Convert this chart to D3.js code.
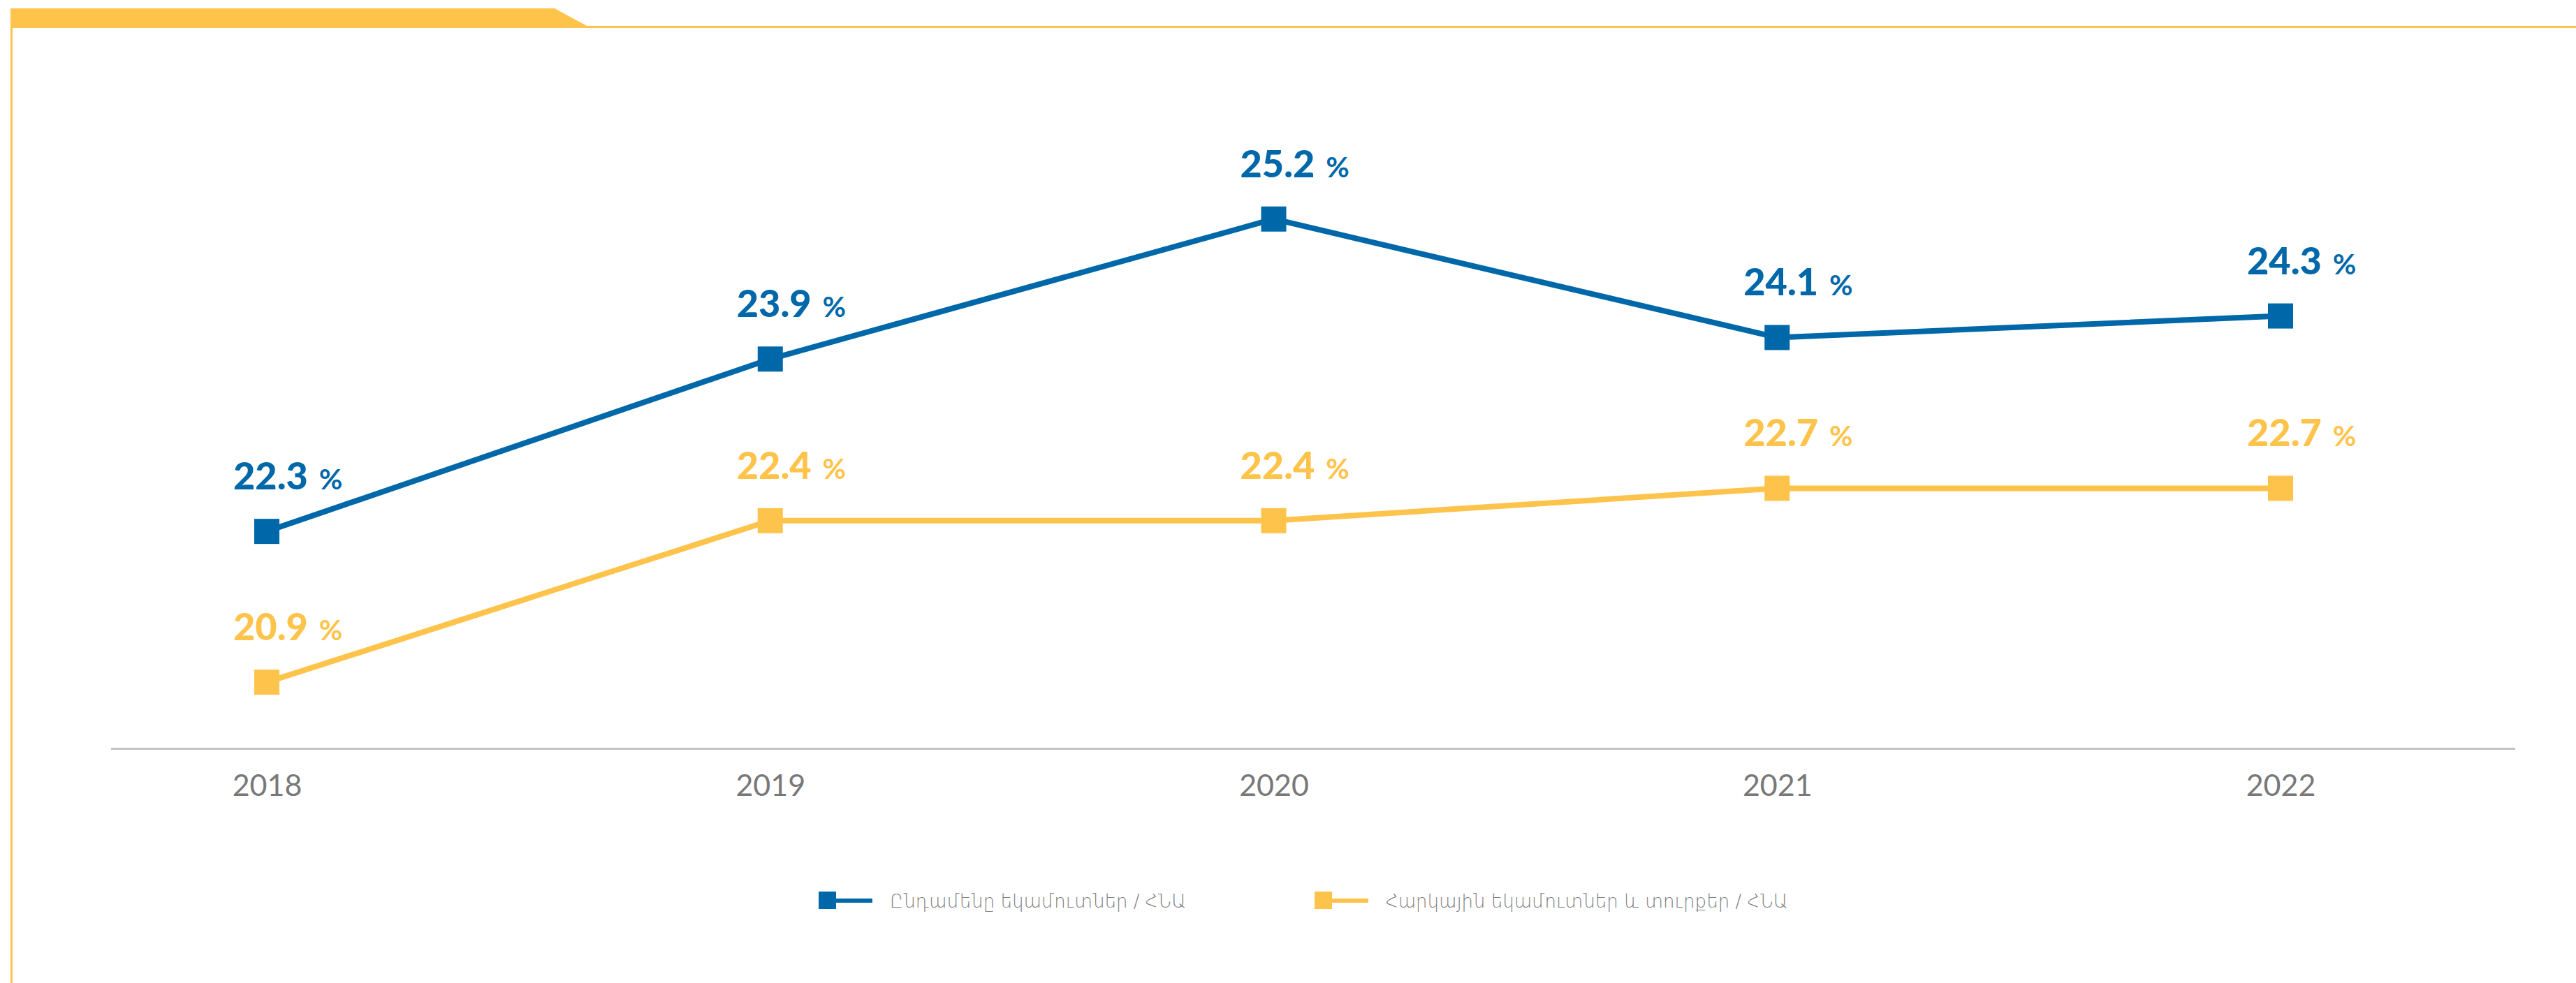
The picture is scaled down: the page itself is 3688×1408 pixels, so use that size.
<!DOCTYPE html>
<html>
<head>
<meta charset="utf-8">
<script src="https://cdn.jsdelivr.net/npm/d3@7"></script>
<style>
  body { margin: 0; background: #fff; }
  svg { display: block; }
</style>
</head>
<body>
<div id="chart-area"></div>
<script>
const years = ["2018", "2019", "2020", "2021", "2022"];
const totalRevenue = [22.3, 23.9, 25.2, 24.1, 24.3];
const taxRevenue = [20.9, 22.4, 22.4, 22.7, 22.7];
const seriesNames = ["Ընդամենը եկամուտներ / ՀՆԱ", "Հարկային եկամուտներ և տուրքեր / ՀՆԱ"];

const blue = "#0068a9";
const yellow = "#fec34a";

let svg = d3.select("#chart-area")
            .append("svg")
            .attr("width", 3688)
            .attr("height", 1408);

// frame decoration: tab on top and thin rule down the left
svg.append("path")
   .attr("d", "M15,12 L794,12 L840,37 L3688,37 L3688,40 L18,40 L18,1408 L15,1408 Z")
   .attr("fill", yellow);

let x = d3.scalePoint()
          .domain(years)
          .range([382, 3265]);

let y = d3.scaleLinear()
          .domain([20, 27])
          .range([1116, 36]);

// baseline
svg.append("line")
   .attr("x1", 159).attr("x2", 3601)
   .attr("y1", 1072.5).attr("y2", 1072.5)
   .attr("stroke", "#c4c4c4")
   .attr("stroke-width", 3);

let xAxis = svg.append("g")
               .attr("transform", "translate(0,1095)")
               .call(d3.axisBottom(x).tickSize(0).tickPadding(0));
xAxis.select(".domain").remove();
xAxis.selectAll("text")
     .attr("dy", "1.05em")
     .attr("fill", "#787878")
     .style("font-family", "Lato, 'Open Sans', sans-serif")
     .style("font-weight", 400)
     .style("font-size", "43px");

let series = [
    {name: seriesNames[1], values: taxRevenue, color: yellow},
    {name: seriesNames[0], values: totalRevenue, color: blue}
];

let line = d3.line()
             .x((d, i) => x(years[i]))
             .y(d => y(d));

series.forEach(s => {
    svg.append("path")
       .datum(s.values)
       .attr("d", line)
       .attr("fill", "none")
       .attr("stroke", s.color)
       .attr("stroke-width", 8);

    svg.selectAll(null)
       .data(s.values)
       .enter().append("rect")
       .attr("x", (d, i) => x(years[i]) - 18)
       .attr("y", d => y(d) - 18)
       .attr("width", 36)
       .attr("height", 36)
       .attr("fill", s.color);

    let labels = svg.selectAll(null)
                    .data(s.values)
                    .enter().append("text")
                    .attr("x", (d, i) => x(years[i]) - 48)
                    .attr("y", d => y(d) - 60)
                    .attr("fill", s.color)
                    .style("font-family", "Lato, 'Open Sans', sans-serif");
    labels.append("tspan")
          .style("font-weight", 900)
          .style("font-size", "54px")
          .text(d => d.toFixed(1));
    labels.append("tspan")
          .attr("dx", 16)
          .style("font-weight", 700)
          .style("font-size", "41px")
          .text("%");
});

// legend
let legendItems = [
    {name: seriesNames[0], color: blue, x: 1172},
    {name: seriesNames[1], color: yellow, x: 1882}
];

let legend = svg.selectAll(".legend")
                .data(legendItems)
                .enter().append("g")
                .attr("class", "legend")
                .attr("transform", d => "translate(" + d.x + ",1277)");

legend.append("rect")
      .attr("width", 25).attr("height", 25)
      .attr("fill", d => d.color);
legend.append("rect")
      .attr("x", 25).attr("y", 10)
      .attr("width", 52).attr("height", 6)
      .attr("fill", d => d.color);
legend.append("text")
      .attr("x", 102)
      .attr("y", 23)
      .attr("fill", "#808080")
      .style("font-family", "'DejaVu Sans', sans-serif")
      .style("font-weight", 300)
      .style("font-size", "26px")
      .text(d => d.name);
</script>
</body>
</html>
